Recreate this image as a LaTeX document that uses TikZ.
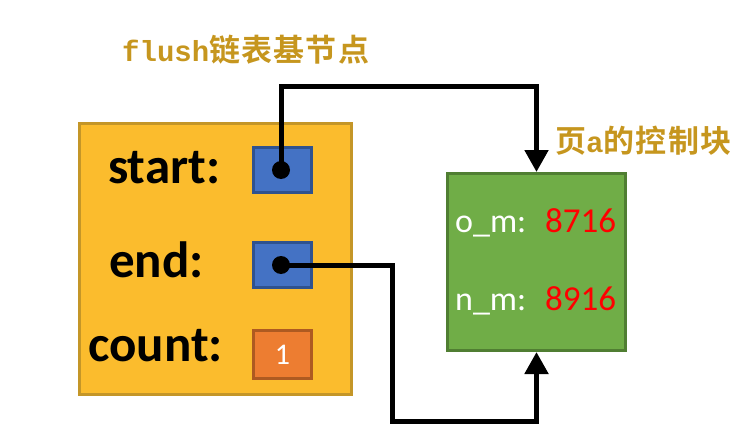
\documentclass[tikz,border=0pt]{standalone}
\usepackage{fontspec}
\setmainfont{Carlito}
\newfontfamily\cjkfont{Noto Sans CJK SC}[BoldFont={* Bold}]
\newfontfamily\monofont{Liberation Mono}
\usetikzlibrary{arrows.meta}
\definecolor{goldfill}{RGB}{251,188,45}
\definecolor{golddraw}{RGB}{196,150,40}
\definecolor{bluefill}{RGB}{68,114,196}
\definecolor{bluedraw}{RGB}{47,82,143}
\definecolor{orfill}{RGB}{237,125,49}
\definecolor{ordraw}{RGB}{174,90,33}
\definecolor{grfill}{RGB}{112,173,71}
\definecolor{grdraw}{RGB}{80,126,50}
\definecolor{titlecol}{RGB}{198,150,30}
\definecolor{numred}{RGB}{255,0,0}
\tikzset{
  boxbase/.style={draw, line width=3pt, inner sep=0pt, anchor=north west},
  slotbox/.style={boxbase, fill=bluefill, draw=bluedraw, minimum width=58pt, minimum height=45pt},
  fieldlbl/.style={anchor=base west, inner sep=0pt, font=\fontsize{51}{51}\selectfont\bfseries},
  grlbl/.style={anchor=base west, inner sep=0pt, text=white, font=\fontsize{34}{34}\selectfont},
  grnum/.style={anchor=base west, inner sep=0pt, text=numred, font=\fontsize{35}{35}\selectfont},
  dotnode/.style={circle, fill=black, minimum size=18pt, inner sep=0pt},
  link/.style={line width=5pt, -{Triangle[width=23pt,length=22pt]}},
  cjklbl/.style={anchor=west, inner sep=0pt, text=titlecol, font=\fontsize{31}{31}\selectfont\bfseries}
}
\newcommand{\mymono}[1]{{\monofont\fontsize{29}{29}\selectfont\bfseries #1}}
\newcommand{\mycjk}[1]{{\cjkfont\addfontfeature{LetterSpace=4}#1}}
\begin{document}
\begin{tikzpicture}[x=1pt,y=-1pt]
\useasboundingbox (0,0) rectangle (737,436);
% outer struct box
\node[boxbase, fill=goldfill, draw=golddraw, minimum width=272pt, minimum height=271pt] (outer) at (78,122) {};
\node[fieldlbl] (lstart) at (108,183) {start:};
\node[fieldlbl] (lend) at (109,277) {end:};
\node[fieldlbl] (lcount) at (88,361) {count:};
\node[slotbox] (sbox) at (252,146) {};
\node[slotbox] (ebox) at (252,241) {};
\node[boxbase, fill=orfill, draw=ordraw, minimum width=58pt, minimum height=48pt] (cbox) at (252,329) {};
\node[text=white, font=\fontsize{30}{30}\selectfont, inner sep=0pt] (cval) at (cbox.center) {1};
\node[dotnode] (sdot) at (281,170) {};
\node[dotnode] (edot) at (281,265) {};
% green control block
\node[boxbase, fill=grfill, draw=grdraw, minimum width=178pt, minimum height=177pt] (green) at (446,172) {};
\node[grlbl] (lom) at (455,232) {o\_m:};
\node[grnum] (vom) at (545,232) {8716};
\node[grlbl] (lnm) at (455,310) {n\_m:};
\node[grnum] (vnm) at (545,310) {8916};
% titles
\node[cjklbl] (title1) at (122,50) {\mymono{flush}\mycjk{链表基节点}};
\node[cjklbl] (title2) at (555,141) {\mycjk{页}\mymono{a}\mycjk{的控制块}};
% connectors
\coordinate (topturn) at (281,87);
\coordinate (botturn) at (392,421);
\draw[link] (sdot.center) -- (topturn) -| (green.north);
\draw[link] (edot.center) -| (botturn) -| (green.south);
\end{tikzpicture}
\end{document}
